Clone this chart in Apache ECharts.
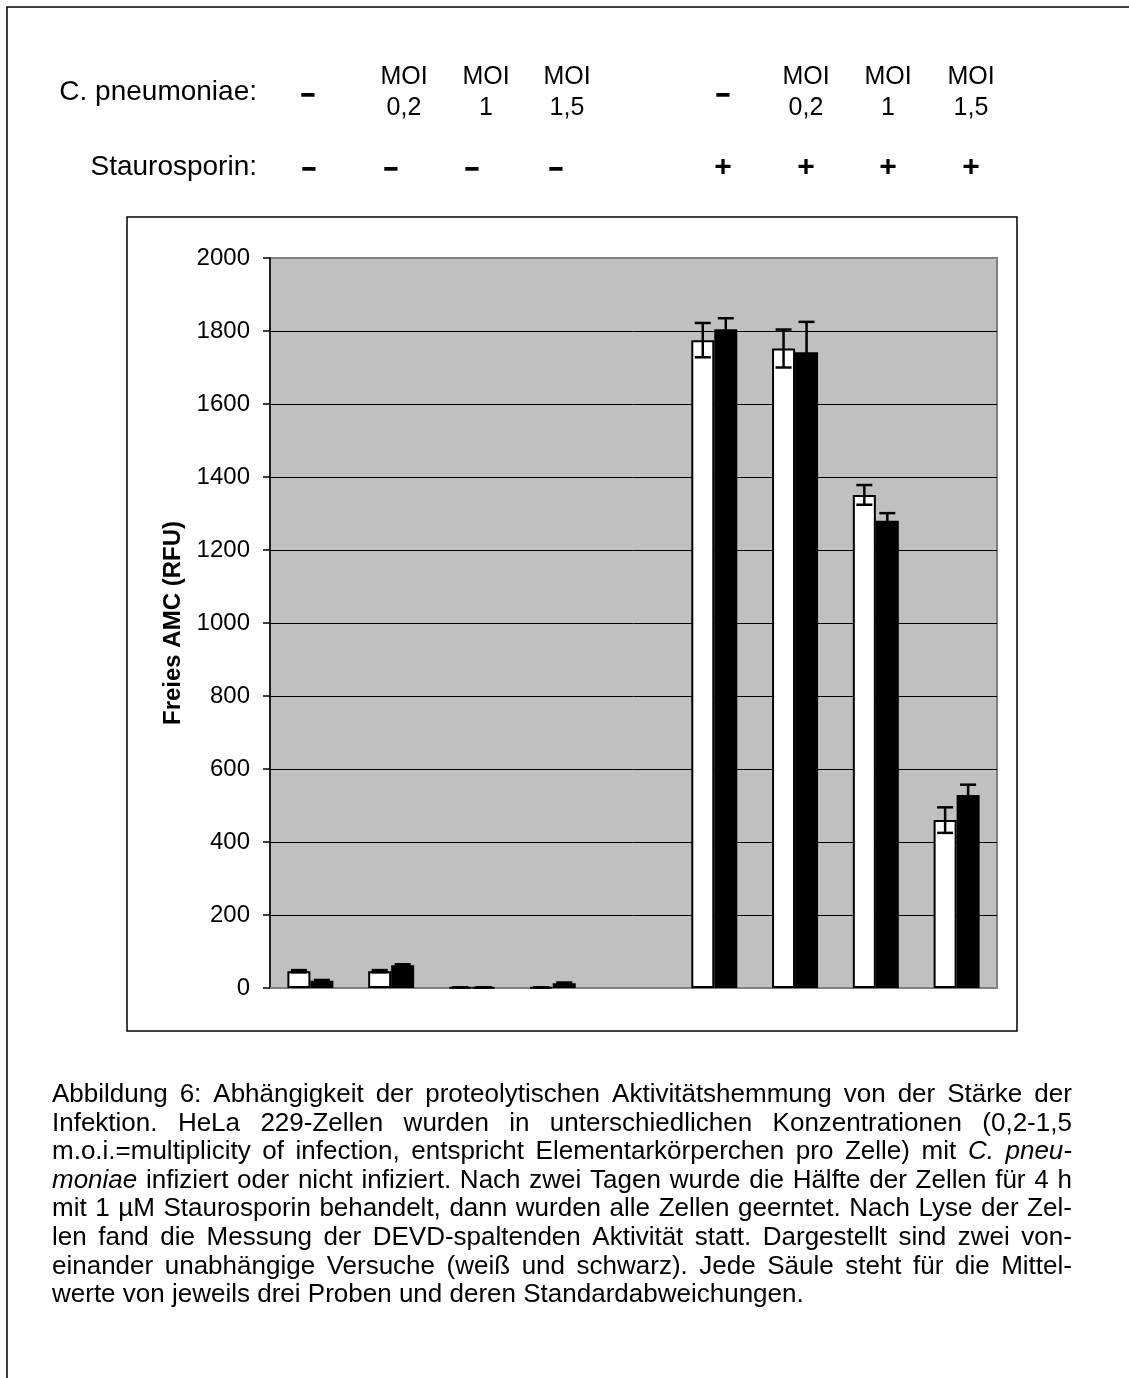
<!DOCTYPE html>
<html>
<head>
<meta charset="utf-8">
<script src="https://cdn.jsdelivr.net/npm/echarts@6/dist/echarts.min.js"></script>
<style>
html,body{margin:0;padding:0;background:#fff;}
#chart{position:absolute;left:0;top:0;width:1129px;height:1378px;}
#caption{position:absolute;left:52px;top:1079px;width:1020px;font-family:"Liberation Sans",Arial,sans-serif;font-size:26px;line-height:28.6px;color:#000;}
#caption .l{display:flex;justify-content:space-between;white-space:nowrap;height:28.6px;}
#caption .last{display:block;white-space:nowrap;height:28.6px;}
#caption i{font-style:italic;}
</style>
</head>
<body>
<div id="chart"></div>
<div id="caption"></div>
<script>
// ---- data ----
const categories = ['–/–', 'MOI 0,2/–', 'MOI 1/–', 'MOI 1,5/–', '', '–/+', 'MOI 0,2/+', 'MOI 1/+', 'MOI 1,5/+'];
const whiteValues = [46, 46, 2, 2, null, 1775, 1752, 1351, 460];
const whiteErrors = [3, 3, 0, 0, null, 47, 52, 27, 35];
const blackValues = [20, 62, 2, 13, null, 1805, 1742, 1280, 529];
const blackErrors = [2, 3, 0, 2, null, 30, 83, 21, 28];
const yTicks = {min: 0, max: 2000, interval: 200};
const infectionTop = ['', 'MOI', 'MOI', 'MOI', '', 'MOI', 'MOI', 'MOI'];
const infectionBottom = ['–', '0,2', '1', '1,5', '–', '0,2', '1', '1,5'];
const stauroLabels = ['–', '–', '–', '–', '+', '+', '+', '+'];
const captionLines = [
  'Abbildung 6: Abhängigkeit der proteolytischen Aktivitätshemmung von der Stärke der',
  'Infektion. HeLa 229-Zellen wurden in unterschiedlichen Konzentrationen (0,2-1,5',
  'm.o.i.=multiplicity of infection, entspricht Elementarkörperchen pro Zelle) mit _C. _pneu-',
  '_moniae infiziert oder nicht infiziert. Nach zwei Tagen wurde die Hälfte der Zellen für 4 h',
  'mit 1 µM Staurosporin behandelt, dann wurden alle Zellen geerntet. Nach Lyse der Zel-',
  'len fand die Messung der DEVD-spaltenden Aktivität statt. Dargestellt sind zwei von-',
  'einander unabhängige Versuche (weiß und schwarz). Jede Säule steht für die Mittel-',
  'werte von jeweils drei Proben und deren Standardabweichungen.'
];

// ---- caption ----
const cap = document.getElementById('caption');
captionLines.forEach((line, i) => {
  const div = document.createElement('div');
  const last = i === captionLines.length - 1;
  div.className = last ? 'last' : 'l';
  const words = line.split(' ');
  words.forEach((w, j) => {
    const el = document.createElement(w.startsWith('_') ? 'i' : 'span');
    el.textContent = w.startsWith('_') ? w.slice(1) : w;
    div.appendChild(el);
    if (last && j < words.length - 1) div.appendChild(document.createTextNode(' '));
  });
  cap.appendChild(div);
});

// ---- chart ----
const FONT = '"Liberation Sans", Arial, sans-serif';
const BAR_W = 23;
const chart = echarts.init(document.getElementById('chart'), null, {renderer: 'canvas'});

function errData(vals, errs) {
  return vals.map((v, i) => v == null ? [i, '-', '-'] : [i, v, errs[i]]);
}
function errRender(offset) {
  return function (params, api) {
    const v = api.value(1);
    const e = api.value(2);
    if (isNaN(v) || isNaN(e)) return null;
    const idx = api.value(0);
    const top = api.coord([idx, v + e]);
    const bot = api.coord([idx, v - e]);
    const x = top[0] + offset;
    const half = 8;
    const st = {stroke: '#000', lineWidth: 2.5};
    return {
      type: 'group',
      children: [
        {type: 'line', shape: {x1: x, y1: top[1], x2: x, y2: bot[1]}, style: st},
        {type: 'line', shape: {x1: x - half, y1: top[1], x2: x + half, y2: top[1]}, style: st},
        {type: 'line', shape: {x1: x - half, y1: bot[1], x2: x + half, y2: bot[1]}, style: st}
      ]
    };
  };
}

const headerX = [308, 404, 486, 567, 723, 806, 888, 971];
const staurX = [309, 391, 472, 556, 723, 806, 888, 971];
const dashStyle = {font: 'bold 24px ' + FONT, fill: '#000', stroke: '#000', lineWidth: 1.4, textAlign: 'center', align: 'center', textVerticalAlign: 'middle', verticalAlign: 'middle'};
const graphics = [
  {type: 'rect', shape: {x: 127, y: 217, width: 890, height: 814}, style: {fill: 'none', stroke: '#000', lineWidth: 1.5}, z: -1},
  {type: 'rect', shape: {x: 7, y: 7, width: 1200, height: 1500}, style: {fill: 'none', stroke: '#000', lineWidth: 1.5}, z: -1},
  {type: 'text', x: 257, y: 92.5, style: {text: 'C. pneumoniae:', font: '28px ' + FONT, fill: '#000', textAlign: 'right', align: 'right', textVerticalAlign: 'middle', verticalAlign: 'middle'}},
  {type: 'text', x: 257, y: 167, style: {text: 'Staurosporin:', font: '28px ' + FONT, fill: '#000', textAlign: 'right', align: 'right', textVerticalAlign: 'middle', verticalAlign: 'middle'}}
];
infectionTop.forEach((t, i) => {
  if (t) {
    graphics.push({type: 'text', x: headerX[i], y: 77, style: {text: t, font: '25px ' + FONT, fill: '#000', textAlign: 'center', align: 'center', textVerticalAlign: 'middle', verticalAlign: 'middle'}});
  }
  const b = infectionBottom[i];
  if (b === '–') {
    graphics.push({type: 'text', x: headerX[i], y: 94, style: Object.assign({text: b}, dashStyle)});
  } else {
    graphics.push({type: 'text', x: headerX[i], y: 108, style: {text: b, font: '25px ' + FONT, fill: '#000', textAlign: 'center', align: 'center', textVerticalAlign: 'middle', verticalAlign: 'middle'}});
  }
});
stauroLabels.forEach((t, i) => {
  if (t === '–') {
    graphics.push({type: 'text', x: staurX[i], y: 168.5, style: Object.assign({text: t}, dashStyle)});
  } else {
    graphics.push({type: 'text', x: staurX[i], y: 168, style: {text: t, font: 'bold 30px ' + FONT, fill: '#000', textAlign: 'center', align: 'center', textVerticalAlign: 'middle', verticalAlign: 'middle'}});
  }
});

chart.setOption({
  animation: false,
  backgroundColor: '#fff',
  textStyle: {fontFamily: FONT},
  grid: {left: 270, top: 258, right: 132, bottom: 390, show: true, backgroundColor: '#c0c0c0', borderColor: '#808080', borderWidth: 2, containLabel: false},
  xAxis: {
    type: 'category', data: categories,
    axisLabel: {show: false}, axisTick: {show: false},
    axisLine: {show: true, lineStyle: {color: '#808080', width: 2}},
    splitLine: {show: false}
  },
  yAxis: {
    type: 'value', min: yTicks.min, max: yTicks.max, interval: yTicks.interval,
    name: 'Freies AMC (RFU)', nameLocation: 'middle', nameGap: 65,
    nameTextStyle: {fontWeight: 'bold', fontSize: 24, color: '#000', fontFamily: FONT},
    axisLine: {show: true, lineStyle: {color: '#000', width: 1.5}},
    axisTick: {show: true, length: 7, lineStyle: {color: '#000', width: 1.5}},
    axisLabel: {fontSize: 24, color: '#000', margin: 20, fontFamily: FONT, formatter: v => String(v)},
    splitLine: {show: true, showMinLine: false, showMaxLine: false, lineStyle: {color: '#000', width: 1}}
  },
  graphic: graphics,
  series: [
    {type: 'bar', name: 'weiß', data: whiteValues, barWidth: BAR_W, barGap: '0%',
      itemStyle: {color: '#fff', borderColor: '#000', borderWidth: 2}},
    {type: 'bar', name: 'schwarz', data: blackValues, barWidth: BAR_W, barGap: '0%',
      itemStyle: {color: '#000', borderColor: '#000', borderWidth: 2}},
    {type: 'custom', name: 'err weiß', data: errData(whiteValues, whiteErrors), renderItem: errRender(-BAR_W / 2), encode: {x: 0, y: 1}, z: 10},
    {type: 'custom', name: 'err schwarz', data: errData(blackValues, blackErrors), renderItem: errRender(BAR_W / 2), encode: {x: 0, y: 1}, z: 10}
  ]
});
</script>
</body>
</html>
